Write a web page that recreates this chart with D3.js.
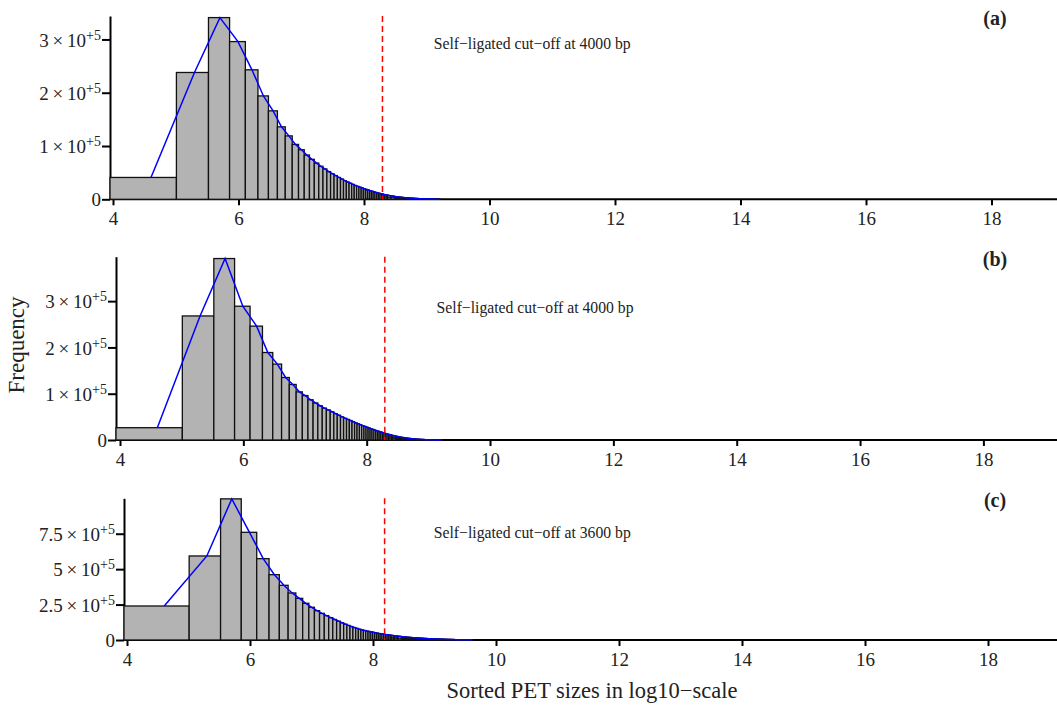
<!DOCTYPE html>
<html>
<head>
<style type="text/css">
  body { margin: 0; background: #fff; }
  #mySvg { width: 1057px; height: 707px; display: block; }
  text { font-family: "Liberation Serif", "Times New Roman", serif; fill: #222; }
  .bar { fill: #b3b3b3; stroke: #111; stroke-width: 1.3px; }
  .fit { fill: none; stroke: #0000ff; stroke-width: 1.5px; }
  .cut { stroke: #ff0000; stroke-width: 1.5px; stroke-dasharray: 6,4; }
  .axis path, .axis line, .axisLine { stroke: #000; stroke-width: 2px; }
</style>
<script src="https://d3js.org/d3.v7.min.js"></script>
</head>
<body>
<svg id="mySvg"></svg>
<script type="text/javascript">
// counts per 100 bp bin (bins 50-150, 150-250, ...), in thousands
var countsA = [41, 238, 341, 296, 243, 194, 166, 136, 119, 103,
  93, 83, 75, 68, 62, 57, 52, 48, 44.5, 41,
  38, 35, 32.5, 30.2, 28, 26, 24.3, 22.7, 21.2, 19.8,
  18.5, 17.3, 16.1, 15, 14, 13, 12.1, 11.3, 10.5, 9.8,
  9.1, 8.5, 7.9, 7.4, 6.9, 6.4, 6.0, 5.6, 5.2, 4.9,
  4.6, 4.3, 4.0, 3.75, 3.5, 3.3, 3.1, 2.9, 2.7, 2.55,
  2.4, 2.25, 2.1, 2.0, 1.85, 1.75, 1.65, 1.55, 1.45, 1.35,
  1.27, 1.2, 1.12, 1.05, 0.98, 0.92, 0.86, 0.8, 0.75, 0.7,
  0.66, 0.62, 0.58, 0.54, 0.5, 0.47, 0.44, 0.41, 0.38, 0.36,
  0.34, 0.32, 0.3, 0.28, 0.26, 0.24, 0.22, 0.21, 0.2, 0.19];

var countsB = [26.6, 268, 392, 289, 246, 189, 164, 135, 120, 104,
  96, 87, 80, 74, 69, 65, 61, 57, 53.5, 50,
  47, 44.5, 42, 39.5, 37, 35, 33, 31, 29.3, 27.6,
  26, 24.4, 23, 21.6, 20.2, 19, 17.8, 16.7, 15.6, 14.6,
  13.6, 12.7, 11.8, 11, 10.2, 9.5, 8.8, 8.2, 7.6, 7.0,
  6.5, 6.0, 5.6, 5.2, 4.8, 4.4, 4.1, 3.8, 3.5, 3.2,
  3.0, 2.7, 2.5, 2.3, 2.1, 1.95, 1.8, 1.65, 1.5, 1.4,
  1.3, 1.2, 1.1, 1.0, 0.92, 0.85, 0.78, 0.72, 0.66, 0.6,
  0.55, 0.5, 0.46, 0.42, 0.39, 0.36, 0.33, 0.3, 0.28, 0.26,
  0.24, 0.22, 0.2, 0.18, 0.17, 0.16, 0.15, 0.14, 0.13, 0.12];

var countsC = [240, 593, 996, 760, 574, 461, 386, 332, 294, 259,
  231, 207, 188, 172, 158, 145, 133, 122, 112, 103,
  95, 88, 82, 76, 71, 67, 63, 60, 57, 54,
  51, 48.5, 46, 44, 42, 40, 38, 36.3, 34.7, 33.2,
  31.8, 30.4, 29.1, 27.9, 26.7, 25.6, 24.5, 23.5, 22.5, 21.6,
  20.7, 19.9, 19.1, 18.4, 17.7, 17.0, 16.4, 15.8, 15.2, 14.7,
  14.2, 13.7, 13.2, 12.8, 12.4, 12.0, 11.6, 11.2, 10.8, 10.5,
  10.1, 9.8, 9.5, 9.2, 8.9, 8.6, 8.3, 8.0, 7.8, 7.5,
  7.3, 7.0, 6.8, 6.6, 6.4, 6.2, 6.0, 5.8, 5.6, 5.4,
  5.2, 5.1, 4.9, 4.8, 4.6, 4.5, 4.3, 4.2, 4.1, 3.9,
  3.8, 3.7, 3.6, 3.5, 3.4, 3.3, 3.2, 3.1, 3.0, 2.9,
  2.8, 2.7, 2.6, 2.55, 2.5, 2.4, 2.3, 2.25, 2.2, 2.1,
  2.05, 2.0, 1.9, 1.85, 1.8, 1.75, 1.7, 1.65, 1.6, 1.55,
  1.5, 1.45, 1.4, 1.35, 1.3, 1.25, 1.2, 1.15, 1.1, 1.05,
  1.0, 0.95, 0.9, 0.85, 0.8, 0.75, 0.7, 0.65, 0.6, 0.55];

var binWidth = 100;   // bp
var binStart = 50;    // bp
var cutoffs = [4000, 4000, 3600];
var panelLabels = ['(a)', '(b)', '(c)'];
var xTicks = [4, 6, 8, 10, 12, 14, 16, 18];
var yTicksAB = [0, 1e5, 2e5, 3e5];
var yTicksC = [0, 2.5e5, 5e5, 7.5e5];
var yMaxes = [3.44e5, 3.96e5, 1.0e6];
var noteY = [2.93e5, 2.87e5, 7.56e5];
var noteX = [10.68, 10.73, 10.59];

// layout of the three panels (pixels)
var layout = [
  {left: 110, x4: 113, x18: 991.5, base: 199.3, top: 16},
  {left: 116, x4: 120, x18: 983.4, base: 440, top: 256.7},
  {left: 124, x4: 127, x18: 988, base: 640, top: 498.3}
];
var rightEdge = 1057;

var svg = d3.select('#mySvg');

function yLabel(sel, v) {
  if (v === 0) { sel.text('0'); return; }
  var m = v / 1e5;
  sel.append('tspan').text(m + '\u2009\u00d7\u200910');
  sel.append('tspan').attr('dy', -7).style('font-size', '14px').text('+5');
}

[countsA, countsB, countsC].forEach(function(counts, p) {
  var L = layout[p];
  var x = d3.scaleLinear().domain([4, 18]).range([L.x4, L.x18]);
  var y = d3.scaleLinear().domain([0, yMaxes[p]]).range([L.base, L.top]);
  var xMin = x.invert(L.left);

  var bins = counts.map(function(c, i) {
    var lo = binStart + i * binWidth, hi = lo + binWidth;
    return {x0: Math.max(Math.log(lo), xMin), x1: Math.log(hi), mid: Math.log(lo + binWidth / 2), n: c * 1000};
  });

  var g = svg.append('g').attr('class', 'panel');

  // x axis
  var xa = g.append('g').attr('class', 'axis')
    .attr('transform', 'translate(0,' + L.base + ')')
    .call(d3.axisBottom(x).tickValues(xTicks).tickSize(6).tickSizeOuter(0).tickFormat(d3.format('d')));
  xa.select('.domain').remove();
  xa.selectAll('text').style('font-size', '19px').attr('dy', '0.9em');
  g.append('line').attr('class', 'axisLine')
    .attr('x1', L.left).attr('x2', rightEdge).attr('y1', L.base).attr('y2', L.base);

  // y axis
  var ya = g.append('g').attr('class', 'axis')
    .attr('transform', 'translate(' + L.left + ',0)')
    .call(d3.axisLeft(y).tickValues(p === 2 ? yTicksC : yTicksAB).tickSize(8).tickSizeOuter(0).tickFormat(''));
  ya.selectAll('.tick').append('text')
    .attr('x', -9).attr('dy', '0.35em')
    .style('font-size', '19px').style('text-anchor', 'end').attr('fill', '#222')
    .each(function(d) { yLabel(d3.select(this), d); });

  // bars
  g.selectAll('rect.bar').data(bins).enter().append('rect')
    .attr('class', 'bar')
    .attr('x', function(d) { return x(d.x0); })
    .attr('width', function(d) { return x(d.x1) - x(d.x0); })
    .attr('y', function(d) { return y(d.n); })
    .attr('height', function(d) { return L.base - y(d.n); });

  // frequency polygon
  g.append('path').attr('class', 'fit')
    .attr('d', d3.line().x(function(d) { return x(d.mid); }).y(function(d) { return y(d.n); })(bins));

  // cut-off line
  var cx = x(Math.log(cutoffs[p]));
  g.append('line').attr('class', 'cut')
    .attr('x1', cx).attr('x2', cx).attr('y1', L.top).attr('y2', L.base);

  g.append('text')
    .attr('x', x(noteX[p])).attr('y', y(noteY[p])).attr('dy', '0.35em')
    .style('font-size', '15.7px').style('text-anchor', 'middle')
    .text('Self\u2212ligated cut\u2212off at ' + cutoffs[p] + ' bp');

  g.append('text')
    .attr('x', 995).attr('y', L.top + 2).attr('dy', '0.35em')
    .style('font-size', '20px').style('font-weight', 'bold').style('text-anchor', 'middle')
    .text(panelLabels[p]);
});

svg.append('text')
  .attr('transform', 'translate(24,345) rotate(-90)')
  .style('font-size', '23px').style('text-anchor', 'middle')
  .text('Frequency');

svg.append('text')
  .attr('x', 592).attr('y', 698)
  .style('font-size', '22.5px').style('text-anchor', 'middle')
  .text('Sorted PET sizes in log10\u2212scale');
</script>
</body>
</html>
